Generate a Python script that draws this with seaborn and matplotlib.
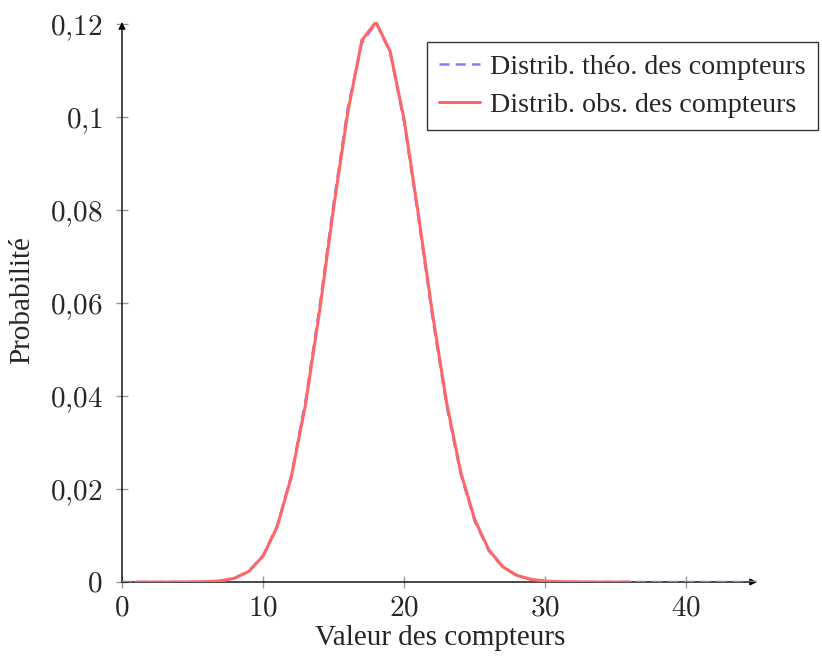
import matplotlib
matplotlib.use("Agg")
import matplotlib.pyplot as plt
import seaborn as sns
import pandas as pd

# Data
x_theo = list(range(0, 46))
p_theo = [0.0, 0.0, 0.0, 0.0, 0.000003, 0.0000167, 0.0000741, 0.000275, 0.000872, 0.00239,
          0.00573, 0.01216, 0.0230, 0.0389, 0.0592, 0.0816, 0.1020, 0.1160, 0.1203, 0.1140,
          0.0988, 0.0784, 0.0570, 0.0380, 0.0232, 0.0130, 0.00667, 0.00313, 0.00134, 0.000524,
          0.000186, 0.0000601, 0.0000175, 0.0000046, 0.000001, 0.0, 0.0, 0.0, 0.0, 0.0,
          0.0, 0.0, 0.0, 0.0, 0.0, 0.0]
x_obs = list(range(1, 37))
p_obs = [0.0, 0.0, 0.0, 0.000003, 0.000016, 0.00007, 0.00026, 0.00083, 0.00230,
         0.00560, 0.01190, 0.0226, 0.0381, 0.0582, 0.0806, 0.1010, 0.1166, 0.1205, 0.1142,
         0.0994, 0.0792, 0.0578, 0.0387, 0.0237, 0.0134, 0.00690, 0.00325, 0.00140, 0.00055,
         0.00020, 0.00006, 0.00002, 0.000005, 0.000001, 0.0, 0.0]

label_theo = "Distrib. théo. des compteurs"
label_obs = "Distrib. obs. des compteurs"
x_ticks = [0, 10, 20, 30, 40]
x_tick_labels = ["$0$", "$10$", "$20$", "$30$", "$40$"]
y_ticks = [0, 0.02, 0.04, 0.06, 0.08, 0.1, 0.12]
y_tick_labels = ["$0$", "$0{,}02$", "$0{,}04$", "$0{,}06$", "$0{,}08$", "$0{,}1$", "$0{,}12$"]

sns.set_style("white")
plt.rcParams["font.family"] = ["Liberation Serif", "DejaVu Serif"]
plt.rcParams["mathtext.fontset"] = "cm"

df_theo = pd.DataFrame({"x": x_theo, "p": p_theo})
df_obs = pd.DataFrame({"x": x_obs, "p": p_obs})

fig = plt.figure(figsize=(8.22, 6.6), dpi=100)
ax = fig.add_axes([122 / 822, 78 / 660, 635 / 822, 560 / 660])

sns.lineplot(data=df_theo, x="x", y="p", ax=ax, color="#8080ff", linewidth=1.8,
             linestyle=(0, (4, 2.5)), label=label_theo, zorder=3)
sns.lineplot(data=df_obs, x="x", y="p", ax=ax, color="#ff6666", linewidth=2.2,
             label=label_obs, zorder=4)

ax.set_xlim(0, 45)
ax.set_ylim(0, 0.1205)
for s in ax.spines.values():
    s.set_visible(False)

# axis lines with arrows
ax.annotate("", xy=(1.0, 0), xytext=(0, 0), xycoords=("axes fraction", "data"),
            textcoords=("axes fraction", "data"),
            arrowprops=dict(arrowstyle="-|>", color="black", lw=1.0, mutation_scale=10,
                            shrinkA=0, shrinkB=0), zorder=1, annotation_clip=False)
ax.annotate("", xy=(0, 1.0), xytext=(0, 0), xycoords=("data", "axes fraction"),
            textcoords=("data", "axes fraction"),
            arrowprops=dict(arrowstyle="-|>", color="black", lw=1.0, mutation_scale=10,
                            shrinkA=0, shrinkB=0), zorder=1, annotation_clip=False)

ax.set_xticks(x_ticks)
ax.set_xticklabels(x_tick_labels)
ax.set_yticks(y_ticks)
ax.set_yticklabels(y_tick_labels)
ax.tick_params(axis="x", direction="inout", length=8, width=1, color="#999999",
               labelsize=21, pad=6)
ax.tick_params(axis="y", direction="inout", length=8, width=1, color="#999999",
               labelsize=21, pad=10)
ax.xaxis.set_ticks_position("bottom")
ax.yaxis.set_ticks_position("left")
ax.set_xlabel("")
ax.set_ylabel("")

fig.text(440 / 822, (660 - 638) / 660, "Valeur des compteurs", ha="center", va="center",
         fontsize=21)
fig.text(22 / 822, (660 - 300) / 660, "Probabilité", ha="center", va="center",
         rotation=90, fontsize=21)

leg = ax.legend(loc="upper right", bbox_to_anchor=(818 / 822, (660 - 42) / 660),
                bbox_transform=fig.transFigure, fontsize=20.2, frameon=True, fancybox=False,
                edgecolor="black", handlelength=1.45, handletextpad=0.35, borderpad=0.45,
                labelspacing=0.42, borderaxespad=0)
leg.get_frame().set_linewidth(1.0)

fig.savefig("out.png", dpi=100)
